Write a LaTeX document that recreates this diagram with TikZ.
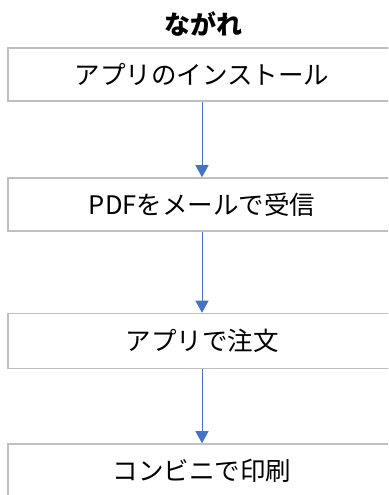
\documentclass[tikz,border=0pt]{standalone}
\usepackage{fontspec}
\setmainfont{Noto Sans CJK JP}
\usetikzlibrary{arrows.meta,positioning}
\definecolor{boxgray}{HTML}{BFBFBF}
\definecolor{arrowblue}{HTML}{4472C4}
\tikzstyle{every node}=[font=\fontsize{25.5}{30}\selectfont, text centered]
\tikzstyle{flowbox} = [draw=boxgray, line width=1.6pt, fill=white, minimum width=388pt, minimum height=53pt, inner sep=0pt]
\tikzstyle{flowline} = [draw=arrowblue, line width=1pt, -{Triangle[length=12pt,width=13pt]}]

\begin{document}
\begin{tikzpicture}[x=1pt,y=-1pt]
    \clip (0,0) rectangle (388,495);
    \fill[white] (0,0) rectangle (388,495);

    \node[font=\fontsize{26}{30}\selectfont\bfseries] (title) at (203,24) {ながれ};

    \node[flowbox] (install) at (202,74.5) {アプリのインストール};
    \node[flowbox] (mail) at (202,204.5) {PDFをメールで受信};
    \node[flowbox, minimum height=55pt] (order) at (202,341) {アプリで注文};
    \node[flowbox, minimum height=54pt] (print) at (202,471) {コンビニで印刷};

    \draw[flowline] (install) -- (mail);
    \draw[flowline] (mail) -- (order);
    \draw[flowline] (order) -- (print);

\end{tikzpicture}
\end{document}
